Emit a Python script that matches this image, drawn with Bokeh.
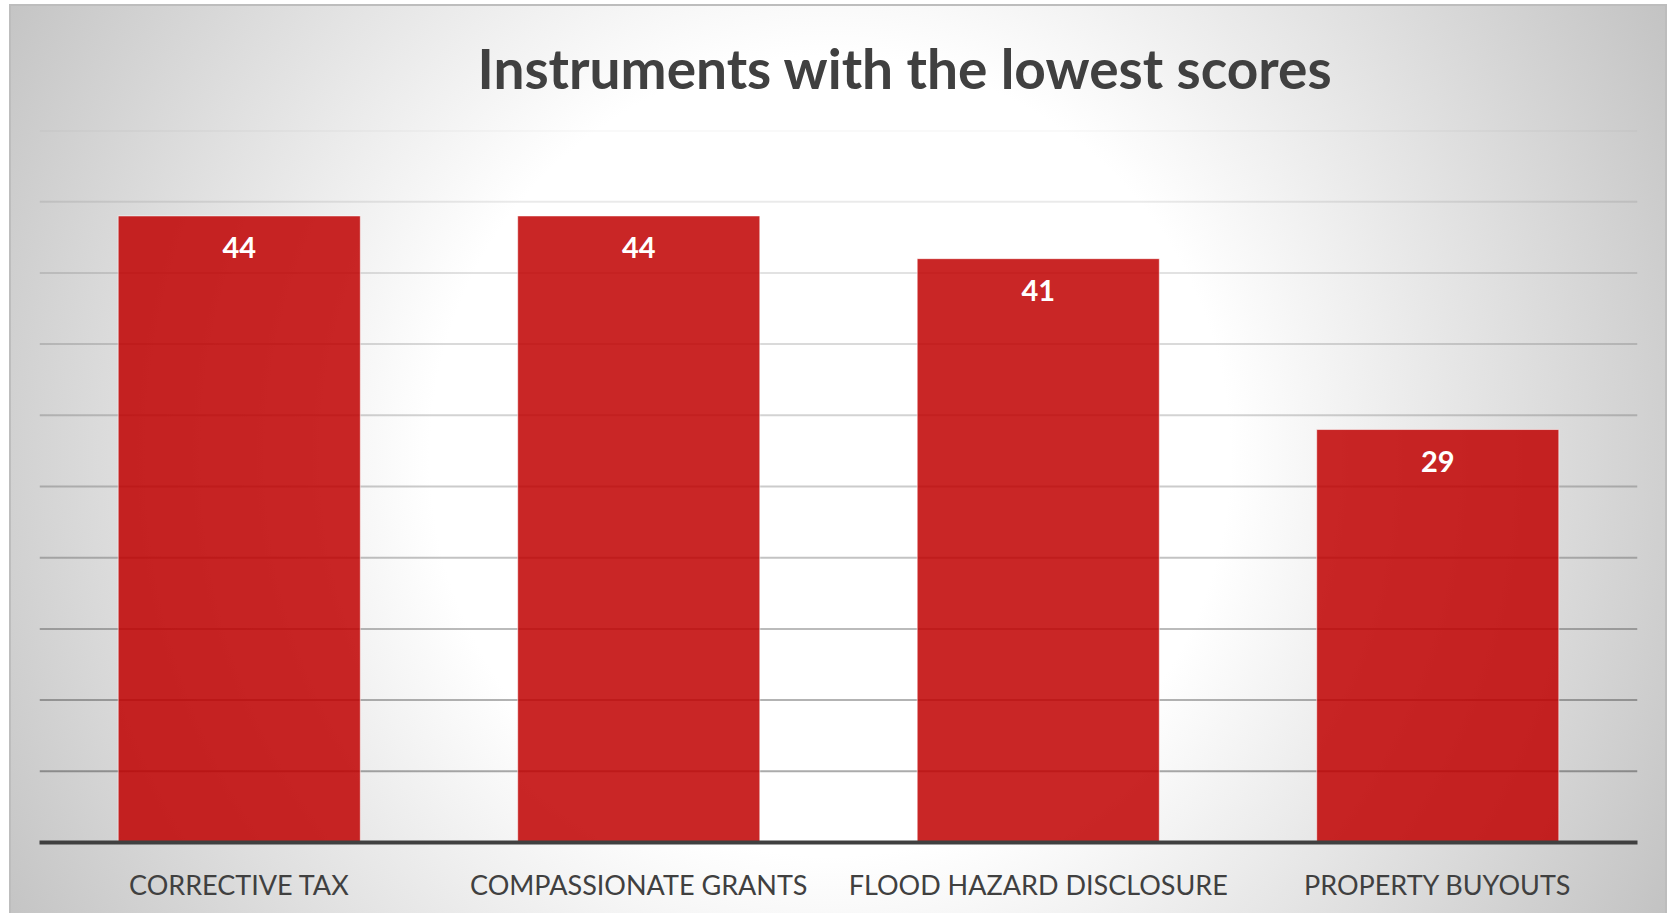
from bokeh.plotting import figure
from bokeh.models import FactorRange, Range1d, Span
from bokeh.core.properties import value
from bokeh.embed import file_html
from bokeh.resources import INLINE

# ---- data ----
title_text = "Instruments with the lowest scores"
categories = ["CORRECTIVE TAX", "COMPASSIONATE GRANTS", "FLOOD HAZARD DISCLOSURE", "PROPERTY BUYOUTS"]
scores = [44, 44, 41, 29]
grid_values = [5, 10, 15, 20, 25, 30, 35, 40, 45, 50]

p = figure(
    x_range=FactorRange(factors=categories),
    y_range=Range1d(0, 50),
    width=1658, height=909,
    output_backend="svg", toolbar_location=None,
    y_axis_location=None,
    title=title_text,
    min_border_left=30, min_border_right=30,
    min_border_top=126, min_border_bottom=71,
)
p.margin = (4, 0, 0, 9)
p.styles = {
    "background": "radial-gradient(circle at 821px 452px, #ffffff 0px, #ffffff 400px, #c2c2c2 960px)",
    "box-shadow": "inset 2px 2px 0 #bdbdbd, inset -2px 0 0 #bdbdbd",
}
p.background_fill_color = None
p.border_fill_color = None
p.outline_line_color = None
p.xgrid.visible = False
p.ygrid.visible = False

# gridlines, darker toward the bottom
for g in grid_values:
    a = 0.05 + (50 - g) / 45 * 0.28
    p.add_layout(Span(location=g, dimension="width", line_color="black",
                      line_alpha=a, line_width=2, level="underlay"))

p.vbar(x=categories, top=scores, width=0.606, fill_color="#c00000", fill_alpha=0.85,
       line_color="white", line_alpha=0.55, line_width=1)

p.text(x=categories, y=scores, text=[str(s) for s in scores],
       text_color="white", text_font=value("Lato"), text_font_style="bold",
       text_font_size="29px", text_align="center", text_baseline="middle",
       y_offset=32)

ax = p.xaxis[0]
ax.axis_line_color = "#404040"
ax.axis_line_width = 4
ax.major_tick_line_color = None
ax.minor_tick_line_color = None
ax.major_label_text_font = "Lato"
ax.major_label_text_font_size = "27px"
ax.major_label_text_color = "#404040"
ax.major_label_standoff = 19

p.title.text_font = "Lato"
p.title.text_font_style = "bold"
p.title.text_font_size = "55px"
p.title.text_color = "#404040"
p.title.align = "left"
p.title.vertical_align = "top"
p.title.offset = 438
p.title.standoff = 56

open("out.html", "w").write(file_html(p, INLINE))
